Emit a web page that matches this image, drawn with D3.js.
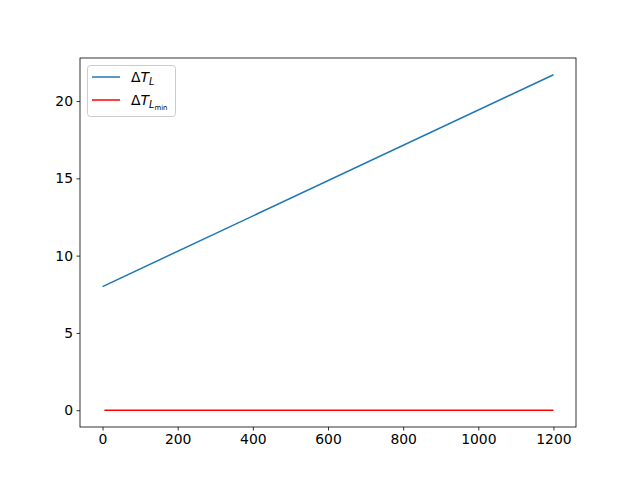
<!DOCTYPE html>
<html><head><meta charset="utf-8">
<script src="https://cdn.jsdelivr.net/npm/d3@7"></script>
<style>body{margin:0;background:#fff}svg{display:block}text{font-family:"DejaVu Sans",sans-serif}</style>
</head><body>
<script>
const xTicks = [0, 200, 400, 600, 800, 1000, 1200];
const yTicks = [0, 5, 10, 15, 20];
const blueX = [0, 1200];
const blueY = [8.0, 21.7];
const redX = [5, 1200];
const redY = [0, 0];

const W = 640, H = 480;
const m = {l: 80, r: 64, t: 58, b: 53};
const svg = d3.select("body").append("svg").attr("width", W).attr("height", H);
const x = d3.scaleLinear().domain([-60, 1260]).range([m.l, W - m.r]);
const y = d3.scaleLinear().domain([-1.085, 22.785]).range([H - m.b, m.t]);

const line = d3.line().x(d => x(d[0])).y(d => y(d[1]));
svg.append("path").datum(blueX.map((v, i) => [v, blueY[i]])).attr("d", line)
  .attr("fill", "none").attr("stroke", "#1f77b4").attr("stroke-width", 1.5);
svg.append("path").datum(redX.map((v, i) => [v, redY[i]])).attr("d", line)
  .attr("fill", "none").attr("stroke", "red").attr("stroke-width", 1.5);

const fs = 13.9;
const xa = svg.append("g").attr("transform", `translate(0,${H - m.b})`)
  .call(d3.axisBottom(x).tickValues(xTicks).tickSize(3.5).tickPadding(3.5).tickFormat(d3.format("d")));
const ya = svg.append("g").attr("transform", `translate(${m.l},0)`)
  .call(d3.axisLeft(y).tickValues(yTicks).tickSize(3.5).tickPadding(3.5).tickFormat(d3.format("d")));
[xa, ya].forEach(a => {
  a.select(".domain").remove();
  a.selectAll("line").attr("stroke", "#000").attr("stroke-width", 0.8);
  a.selectAll("text").attr("font-size", fs).attr("fill", "#000").attr("font-family", "DejaVu Sans");
});
svg.append("rect").attr("x", m.l).attr("y", m.t).attr("width", W - m.l - m.r).attr("height", H - m.t - m.b)
  .attr("fill", "none").attr("stroke", "#000").attr("stroke-width", 0.8);

// legend
const lg = svg.append("g");
lg.append("rect").attr("x", 87.5).attr("y", 65.5).attr("width", 88).attr("height", 51).attr("rx", 3)
  .attr("fill", "#fff").attr("fill-opacity", 0.8).attr("stroke", "#ccc").attr("stroke-width", 1);
const items = [{c: "#1f77b4", y: 77, sub: null}, {c: "red", y: 100, sub: "min"}];
items.forEach(it => {
  lg.append("line").attr("x1", 92).attr("x2", 120).attr("y1", it.y).attr("y2", it.y)
    .attr("stroke", it.c).attr("stroke-width", 1.5);
  const t = lg.append("text").attr("x", 131).attr("y", it.y + 5).attr("font-size", fs).attr("fill", "#000");
  t.append("tspan").text("Δ");
  t.append("tspan").attr("font-style", "italic").text("T");
  t.append("tspan").attr("font-style", "italic").attr("font-size", fs * 0.7).attr("dy", 3).text("L");
  if (it.sub) t.append("tspan").attr("font-size", fs * 0.5).attr("dy", 2).text(it.sub);
});
</script>
</body></html>
